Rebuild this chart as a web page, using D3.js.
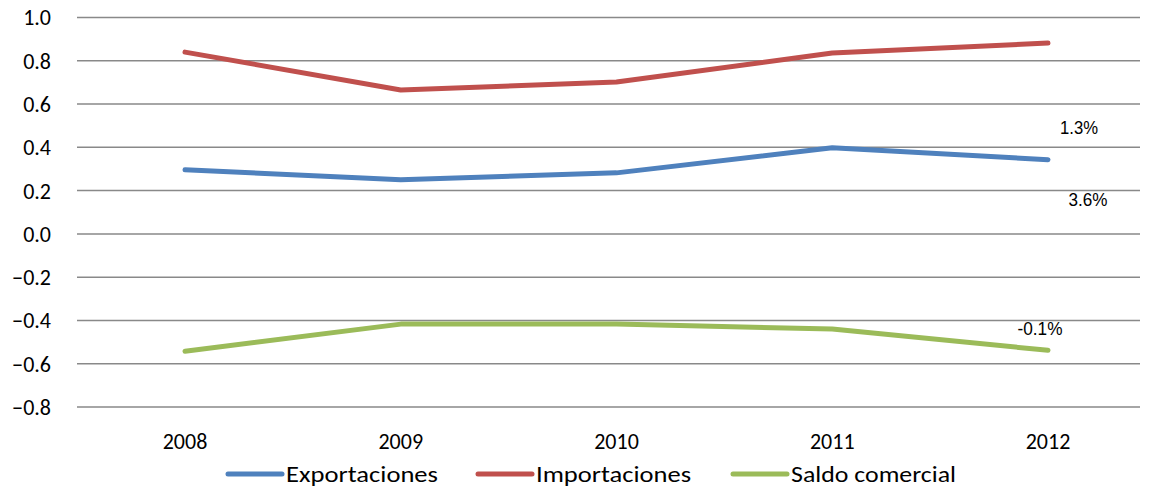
<!DOCTYPE html>
<html><head><meta charset="utf-8">
<script src="https://cdn.jsdelivr.net/npm/d3@7"></script>
<style>body{margin:0;background:#fff}</style>
</head><body>
<svg id="c" width="1153" height="491"></svg>
<script>
const years = ["2008","2009","2010","2011","2012"];
const exportaciones = [0.296, 0.250, 0.282, 0.398, 0.343];
const importaciones = [0.840, 0.665, 0.702, 0.836, 0.882];
const saldo = [-0.542, -0.417, -0.417, -0.440, -0.538];
const yTicks = [1.0,0.8,0.6,0.4,0.2,0.0,-0.2,-0.4,-0.6,-0.8];
const seriesNames = ["Exportaciones","Importaciones","Saldo comercial"];
const colors = ["#4F81BD","#C0504D","#9BBB59"];
const annotations = [{text:"1.3%", dx:31, dy:-31.5, w:38},{text:"3.6%", dx:40, dy:40.5, w:39},{text:"-0.1%", dx:-8, dy:-22, w:45}];

const svg = d3.select("#c");
const L=77, R=1140, T=17.5, B=407;
const x = d3.scalePoint().domain(years).range([185,1048]);
const y = d3.scaleLinear().domain([-0.8,1.0]).range([B,T]);
const font = "Carlito, Lato, 'Open Sans', sans-serif";

svg.append("g").selectAll("line").data(yTicks).join("line")
  .attr("x1",L).attr("x2",R).attr("y1",d=>y(d)).attr("y2",d=>y(d))
  .attr("stroke","#898989").attr("stroke-width",1.5);

svg.append("g").selectAll("text").data(yTicks).join("text")
  .attr("x",51).attr("y",d=>y(d)).attr("dy","0.36em").attr("text-anchor","end")
  .attr("font-family",font).attr("font-size",22).attr("fill","#000")
  .text(d=>d3.format(".1f")(d));

svg.append("g").selectAll("text").data(years).join("text")
  .attr("x",d=>x(d)).attr("y",441).attr("dy","0.36em").attr("text-anchor","middle")
  .attr("font-family",font).attr("font-size",22).attr("fill","#000").text(d=>d);

const all=[exportaciones,importaciones,saldo];
const line=d3.line().x((d,i)=>x(years[i])).y(d=>y(d));
all.forEach((s,k)=>{
  svg.append("path").attr("d",line(s)).attr("fill","none").attr("stroke",colors[k])
    .attr("stroke-width",5).attr("stroke-linecap","round").attr("stroke-linejoin","round");
});

const annSeries=[exportaciones,exportaciones,saldo];
annotations.forEach((a,k)=>{
  const s=annSeries[k];
  svg.append("text").attr("x",x(years[4])+a.dx).attr("y",y(s[4])+a.dy)
    .attr("dy","0.35em").attr("text-anchor","middle")
    .attr("font-family","'Liberation Sans', Arial, sans-serif").attr("font-size",18)
    .attr("fill","#000")
    .attr("textLength", a.w).attr("lengthAdjust","spacingAndGlyphs")
    .text(a.text);
});

const legX=[228,478,733], legW=[152,155,165];
const lg=svg.append("g");
seriesNames.forEach((n,k)=>{
  lg.append("line").attr("x1",legX[k]).attr("x2",legX[k]+54).attr("y1",474).attr("y2",474)
    .attr("stroke",colors[k]).attr("stroke-width",5).attr("stroke-linecap","round");
  lg.append("text").attr("x",legX[k]+58).attr("y",474).attr("dy","0.36em")
    .attr("font-family",font).attr("font-size",23).attr("fill","#000")
    .attr("textLength",legW[k]).attr("lengthAdjust","spacingAndGlyphs").text(n);
});
</script>
</body></html>
